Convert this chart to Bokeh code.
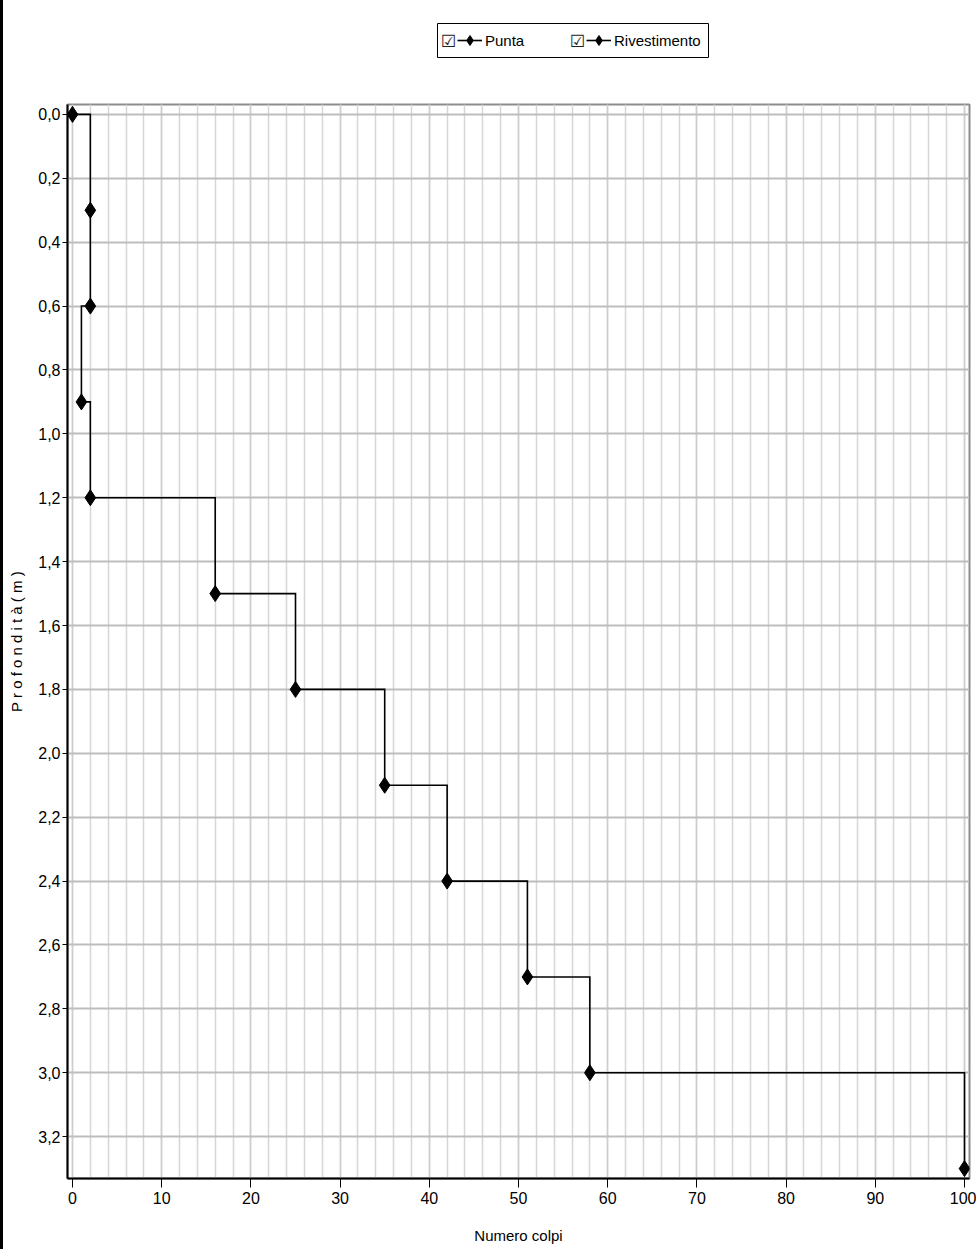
from bokeh.plotting import figure
from bokeh.models import (Range1d, FixedTicker, Legend, LegendItem, Label, ColumnDataSource, Div,
                          BoxAnnotation)
from bokeh.layouts import row, column
from bokeh.embed import file_html
from bokeh.resources import INLINE

# ---- data ----
colpi = [0, 2, 2, 1, 2, 16, 25, 35, 42, 51, 58, 100]
profondita = [0.0, 0.3, 0.6, 0.9, 1.2, 1.5, 1.8, 2.1, 2.4, 2.7, 3.0, 3.3]
rivestimento_colpi = []
rivestimento_prof = []

x_ticks = [0, 10, 20, 30, 40, 50, 60, 70, 80, 90, 100]
x_minor_ticks = [0, 2, 4, 6, 8, 10, 12, 14, 16, 18, 20, 22, 24, 26, 28, 30, 32, 34, 36, 38,
                 40, 42, 44, 46, 48, 50, 52, 54, 56, 58, 60, 62, 64, 66, 68, 70, 72, 74, 76,
                 78, 80, 82, 84, 86, 88, 90, 92, 94, 96, 98, 100]
y_ticks = [0.0, 0.2, 0.4, 0.6, 0.8, 1.0, 1.2, 1.4, 1.6, 1.8, 2.0, 2.2, 2.4, 2.6, 2.8, 3.0, 3.2]
y_tick_labels = ["0,0", "0,2", "0,4", "0,6", "0,8", "1,0", "1,2", "1,4", "1,6", "1,8",
                 "2,0", "2,2", "2,4", "2,6", "2,8", "3,0", "3,2"]
legend_labels = ["Punta", "Rivestimento"]
x_title = "Numero colpi"
y_title = "P r o f o n d i t à ( m )"

FONT = "Liberation Sans"

# step path (value of interval [d_i, d_i+1] is colpi[i+1])
step_x = [colpi[0]]
step_y = [profondita[0]]
for i in range(len(colpi) - 1):
    step_x += [colpi[i + 1], colpi[i + 1]]
    step_y += [profondita[i], profondita[i + 1]]

# ---- main chart ----
p = figure(width=973, height=1157,
           x_range=Range1d(-0.56, 100.56), y_range=Range1d(3.331, -0.031),
           output_backend="svg", toolbar_location=None,
           min_border_left=64, min_border_right=7, min_border_top=12, min_border_bottom=71)
p.background_fill_color = "white"
p.border_fill_color = "white"
p.outline_line_color = "#8c8c8c"
p.outline_line_width = 2

xt = FixedTicker(ticks=x_ticks, minor_ticks=x_minor_ticks)
yt = FixedTicker(ticks=y_ticks, minor_ticks=[])
p.xaxis.ticker = xt
p.yaxis.ticker = yt
p.xgrid.ticker = xt
p.ygrid.ticker = yt
p.yaxis.major_label_overrides = {t: l for t, l in zip(y_ticks, y_tick_labels)}

for ax in (p.xaxis[0], p.yaxis[0]):
    ax.axis_line_color = "black"
    ax.axis_line_width = 2
    ax.major_tick_line_color = "black"
    ax.major_tick_line_width = 1
    ax.major_tick_in = 0
    ax.minor_tick_out = 0
    ax.minor_tick_in = 0
    ax.major_label_text_font = FONT
    ax.major_label_text_font_size = "16px"
    ax.major_label_text_color = "black"
    ax.axis_label_text_font = FONT
    ax.axis_label_text_font_style = "normal"
    ax.axis_label_text_font_size = "15px"
    ax.axis_label_text_color = "black"

p.xaxis.major_tick_out = 9
p.yaxis.major_tick_out = 5
p.xaxis.axis_label = x_title
p.yaxis.axis_label = y_title
p.xaxis.major_label_standoff = 4
p.xaxis.axis_label_standoff = 20
p.yaxis.major_label_standoff = 2
p.yaxis.axis_label_standoff = 10

p.xgrid.grid_line_color = "#cdcdcd"
p.xgrid.grid_line_width = 1.5
p.xgrid.minor_grid_line_color = "#d6d6d6"
p.xgrid.minor_grid_line_width = 1.5
p.ygrid.grid_line_color = "#bdbdbd"
p.ygrid.grid_line_width = 2

p.line(step_x, step_y, line_color="black", line_width=1.6, line_join="miter")
p.scatter(colpi, profondita, marker="diamond", size=16, fill_color="black", line_color="black")
riv_src = ColumnDataSource(data=dict(x=rivestimento_colpi, y=rivestimento_prof))
p.line("x", "y", source=riv_src, line_color="black", line_width=1.6)
p.scatter("x", "y", source=riv_src, marker="diamond", size=16, fill_color="black", line_color="black")

# ---- legend strip (its ranges lie far from the data, so only the legend shows) ----
lf = figure(width=973, height=92, x_range=Range1d(-1000, -999), y_range=Range1d(-1000, -999),
            x_axis_type=None, y_axis_type=None, output_backend="svg", toolbar_location=None,
            min_border_left=64, min_border_right=7, min_border_top=0, min_border_bottom=0)
lf.outline_line_color = None
lf.background_fill_color = "white"
lf.border_fill_color = "white"
lf.xgrid.visible = False
lf.ygrid.visible = False

# legend frame
lf.add_layout(BoxAnnotation(left=370, right=641, top=69, bottom=35,
                            left_units="screen", right_units="screen",
                            top_units="screen", bottom_units="screen",
                            fill_color="white", fill_alpha=1,
                            line_color="black", line_width=1, line_alpha=1, level="underlay"))

legend_src = ColumnDataSource(data=dict(x=colpi, y=profondita))
item_x = [390, 519]
box_x = [381, 510]
for lab, lx, bx in zip(legend_labels, item_x, box_x):
    lr = lf.line("x", "y", source=legend_src, line_color="black", line_width=1.6)
    sr = lf.scatter("x", "y", source=legend_src, marker="diamond", size=16,
                    fill_color="black", line_color="black")
    lg = Legend(items=[LegendItem(label=lab, renderers=[lr, sr])], location=(lx, 37),
                orientation="horizontal", glyph_width=25, glyph_height=30,
                label_standoff=3, spacing=0, padding=0, margin=0, label_width=0,
                border_line_color=None, background_fill_alpha=0,
                label_text_font=FONT, label_text_font_size="15px", label_text_color="black")
    lf.add_layout(lg)
    lf.add_layout(Label(x=bx, y=52, x_units="screen", y_units="screen", text="☑",
                        text_font="DejaVu Sans", text_font_size="17px", text_color="#222222",
                        text_align="center", text_baseline="middle", level="overlay"))

edge = Div(width=3, height=1249, margin=0, styles={"background-color": "black"})
layout = row(edge, column(lf, p))

open("out.html", "w").write(file_html(layout, INLINE))
